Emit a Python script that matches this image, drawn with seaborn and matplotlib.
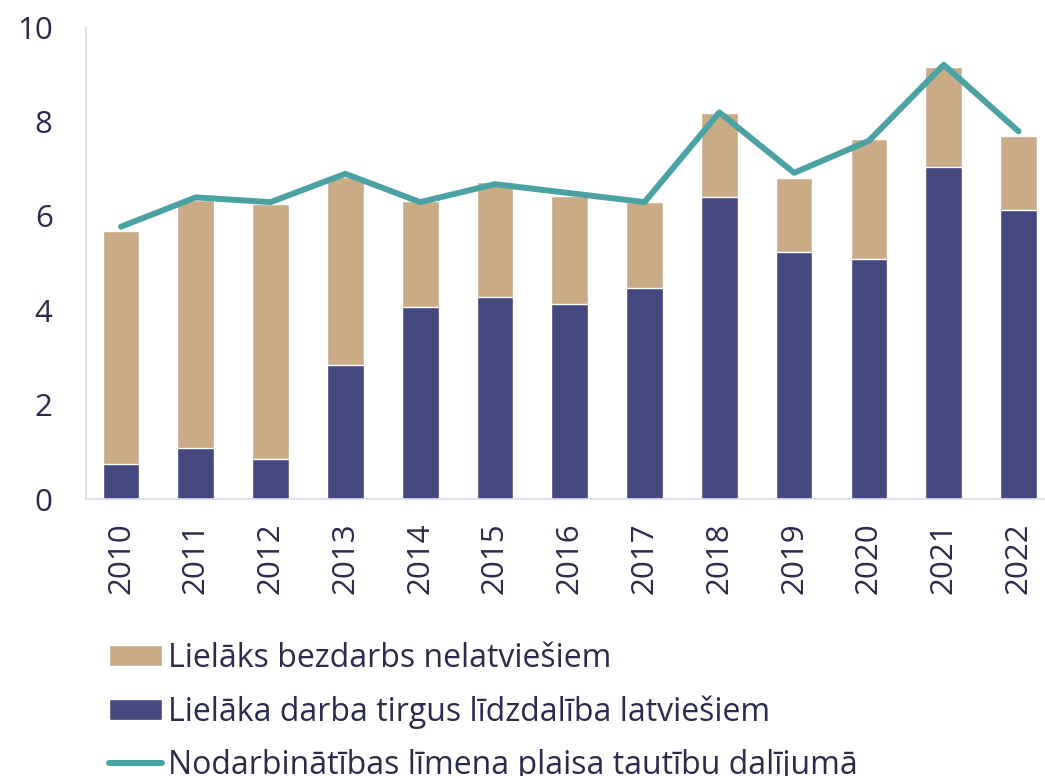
import matplotlib
matplotlib.use("Agg")
import matplotlib.pyplot as plt
import numpy as np
import seaborn as sns

years = ["2010", "2011", "2012", "2013", "2014", "2015", "2016",
         "2017", "2018", "2019", "2020", "2021", "2022"]
# participation effect (dark part of the bar)
participation = [0.74, 1.07, 0.85, 2.84, 4.06, 4.29, 4.13,
                 4.46, 6.40, 5.24, 5.09, 7.04, 6.12]
# unemployment effect (tan part on top)
unemployment = [4.94, 5.27, 5.40, 3.98, 2.25, 2.42, 2.30,
                1.84, 1.77, 1.57, 2.54, 2.12, 1.58]
# employment gap line
gap = [5.77, 6.39, 6.29, 6.89, 6.29, 6.67, 6.48,
       6.29, 8.19, 6.91, 7.59, 9.20, 7.79]

lbl_unemp = "Lielāks bezdarbs nelatviešiem"
lbl_part = "Lielāka darba tirgus līdzdalība latviešiem"
lbl_gap = "Nodarbinātības līmeņa plaisa tautību dalījumā"

tan = "#C9AB87"
navy = "#45487E"
teal = "#4AA3A2"
txt = "#2B2B4E"
spine = "#D9D9EA"

sns.set_style("white")
plt.rcParams["font.family"] = ["Open Sans", "DejaVu Sans"]

fig = plt.figure(figsize=(10.45, 7.76), dpi=100)
ax = fig.add_axes([86 / 1045, 1 - 499 / 776, 1 - 86 / 1045, (499 - 27) / 776])

totals = np.array(participation) + np.array(unemployment)
sns.barplot(x=years, y=totals, color=tan, width=0.49, saturation=1,
            label=lbl_unemp, ax=ax)
sns.barplot(x=years, y=participation, color=navy, width=0.49, saturation=1,
            label=lbl_part, ax=ax)
sns.lineplot(x=np.arange(len(years)), y=gap, color=teal, linewidth=4.3,
             solid_capstyle="round", solid_joinstyle="round",
             label=lbl_gap, ax=ax, zorder=5)

ax.set_ylim(0, 10)
ax.set_xlim(-0.468, 12.354)
ax.set_yticks([0, 2, 4, 6, 8, 10])
ax.tick_params(axis="y", length=0, pad=24, labelsize=22.5, labelcolor=txt)
ax.tick_params(axis="x", length=0, pad=17, labelsize=22.5, labelcolor=txt,
               labelrotation=90)
ax.set_xlabel("")
ax.set_ylabel("")

for side in ["top", "right"]:
    ax.spines[side].set_visible(False)
for side in ["left", "bottom"]:
    ax.spines[side].set_color(spine)
    ax.spines[side].set_linewidth(1.2)

# legend sits below the axes, last row runs into the bottom edge like the original
handles, labels = ax.get_legend_handles_labels()
order = [labels.index(lbl_unemp), labels.index(lbl_part), labels.index(lbl_gap)]
ax.legend([handles[i] for i in order], [labels[i] for i in order],
          loc="upper left", bbox_to_anchor=(109 / 1045, 1 - 642 / 776),
          bbox_transform=fig.transFigure, frameon=False, fontsize=23,
          labelcolor=txt, handlelength=1.65, handleheight=0.65,
          handletextpad=0.2, labelspacing=0.64, borderpad=0, borderaxespad=0)

fig.savefig("out.png", dpi=100)
